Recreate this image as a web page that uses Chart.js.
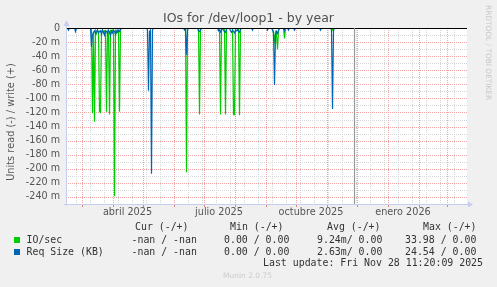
<!DOCTYPE html>
<html><head><meta charset="utf-8">
<script src="https://cdn.jsdelivr.net/npm/chart.js@4/dist/chart.umd.min.js"></script>
<style>html,body{margin:0;padding:0;background:#F0F0F0;overflow:hidden}#wrap{position:relative;width:497px;height:287px}canvas{display:block}</style>
</head><body><div id="wrap"><canvas id="c" width="497" height="287"></canvas></div>
<script>
// ---- DATA (days counted from 1 Jan 2025; values in milli-units, read side is negative) ----
const ioDays = [44, 69, 70, 71, 72, 73, 74, 75, 76, 77, 78, 79, 80, 81, 82, 83, 84, 85, 86, 87, 88, 89, 90, 91, 92, 93, 94, 95, 96, 97, 98, 99,
  163, 164, 165, 176, 177, 178, 196, 197, 198, 199, 200, 202, 203, 204, 210, 211, 212, 213, 216, 217, 218, 219,
  250, 251, 252, 253, 254, 255, 256, 257, 261, 262, 263, 309, 310, 311, 331];
const ioRead = [0, 0, -121, -6, -133, -4, -8, -3, -6, -119, -120, -5, -3, -7, -4, -6, -119, -5, -8, -123, -4, -6, -3, -5, -239, -4, -7, -3, -5, -119, -3, 0,
  0, -205, 0, 0, -123, 0, 0, -2, -123, -2, 0, 0, -123, 0, 0, -123, -123, 0, 0, -124, -2, 0,
  0, -8, -18, -6, -10, -30, -4, 0, 0, -15, 0, 0, -3, 0, 0];

const reqDays = [44, 45, 46, 47, 52, 53, 54, 68,
  69, 70, 71, 72, 73, 74, 75, 76, 77, 78, 79, 80, 81, 82, 83, 84, 85, 86, 87, 88, 89, 90, 91, 92, 93, 94, 95, 96, 97, 98, 99,
  124, 125, 126, 127, 128, 129, 130, 131,
  161, 162, 163, 164, 165, 166,
  175, 176, 177, 178, 179,
  195, 196, 197, 198, 199, 200, 201, 202, 203, 204, 205, 206, 207, 208, 209, 210, 211, 212, 213, 214, 215, 216, 217, 218, 219,
  229, 230, 231, 244, 245, 246,
  249, 250, 251, 252, 253, 254, 255, 256, 257,
  261, 262, 263, 265, 266, 267, 271, 272, 273, 297, 298, 299,
  308, 309, 310, 311, 312, 331];
const reqRead = [0, 0, -3, 0, 0, -5, 0, 0,
  -27, -10, -6, -4, -8, -5, -3, -7, -5, -4, -9, -3, -6, -10, -4, -5, -8, -3, -6, -11, -4, -7, -3, -5, -9, -4, -6, -3, -5, -2, 0,
  0, -3, -89, -5, -3, -207, -3, 0,
  0, -3, -2, -38, -3, 0,
  0, -4, -5, -3, 0,
  0, -4, -2, -6, -3, 0, -3, -5, -6, -2, 0, 0, 0, -4, -6, -3, -5, -7, -3, -4, -2, -5, -6, -2, 0,
  0, -3, 0, 0, -3, 0,
  0, -3, -6, -81, -10, -5, -8, -3, 0,
  0, -4, 0, 0, -3, 0, 0, -3, 0, 0, -3, 0,
  0, -3, -115, -4, 0, 0];

const xLabelDays = [105, 196.5, 288.5, 380.5];
const xLabels = ['abril 2025', 'julio 2025', 'octubre 2025', 'enero 2026'];
const monthStartDays = [59, 90, 120, 151, 181, 212, 243, 273, 304, 334, 365, 396, 424];
const yTickValues = [0, -20, -40, -60, -80, -100, -120, -140, -160, -180, -200, -220, -240];
const nowDay = 331.47;

const seriesNames = ['IO/sec', 'Req Size (KB)'];
const legendCur = ['-nan / -nan', '-nan / -nan'];
const legendMin = ['0.00 / 0.00', '0.00 / 0.00'];
const legendAvg = ['9.24m/ 0.00', '2.63m/ 0.00'];
const legendMax = ['33.98 / 0.00', '24.54 / 0.00'];
const lastUpdate = 'Last update: Fri Nov 28 11:20:09 2025';

// ---- style ----
const GREEN = '#00CC00', BLUE = '#0066B3';
const AX = 'DejaVu Sans';
const MONO = 'DejaVu Sans Mono';

function seg(ctx, x1, y1, x2, y2) { ctx.beginPath(); ctx.moveTo(x1, y1); ctx.lineTo(x2, y2); ctx.stroke(); }

const rrdPlugin = {
  id: 'rrd',
  beforeDraw(chart) {
    const {ctx, chartArea: a} = chart;
    ctx.save();
    ctx.fillStyle = '#F0F0F0'; ctx.fillRect(0, 0, chart.width, chart.height);
    ctx.fillStyle = '#FFFFFF'; ctx.fillRect(a.left, a.top, a.right - a.left, a.bottom - a.top);
    ctx.restore();
  },
  beforeDatasetsDraw(chart) {
    const {ctx, chartArea: a, scales: {x, y}} = chart;
    ctx.save();
    ctx.lineWidth = 1;
    ctx.setLineDash([1, 1]);
    // minor grid (gray)
    ctx.strokeStyle = '#D6D6D6';
    for (let d = 235.5 - 14 * 14; d < x.max; d += 14) {
      if (d <= x.min) continue;
      const px = Math.round(x.getPixelForValue(d)) + 0.5;
      seg(ctx, px, a.top, px, a.bottom);
    }
    for (let v = -10; v > y.min; v -= 20) {
      const py = Math.round(y.getPixelForValue(v)) + 0.5;
      seg(ctx, a.left, py, a.right, py);
    }
    // major grid (red)
    ctx.strokeStyle = '#F2A4A4';
    for (const d of monthStartDays) {
      if (d <= x.min || d >= x.max) continue;
      const px = Math.round(x.getPixelForValue(d)) + 0.5;
      seg(ctx, px, a.top, px, a.bottom);
    }
    for (const v of yTickValues) {
      if (v === 0) continue;
      const py = Math.round(y.getPixelForValue(v)) + 0.5;
      seg(ctx, a.left, py, a.right, py);
    }
    ctx.setLineDash([]);
    // small ticks under x axis
    ctx.strokeStyle = '#E88080';
    for (const d of monthStartDays) {
      if (d <= x.min || d >= x.max) continue;
      const px = Math.round(x.getPixelForValue(d)) + 0.5;
      seg(ctx, px, a.bottom, px, a.bottom + 3);
    }
    ctx.restore();
  },
  afterDatasetsDraw(chart) {
    const {ctx, chartArea: a, scales: {x, y}} = chart;
    ctx.save();
    // zero line
    ctx.strokeStyle = '#000000'; ctx.lineWidth = 1.2;
    const y0 = y.getPixelForValue(0) + 0.5;
    seg(ctx, a.left, y0, a.right, y0);
    // now line
    ctx.strokeStyle = '#999999'; ctx.lineWidth = 1.2;
    const nx = Math.round(x.getPixelForValue(nowDay)) + 0.5;
    seg(ctx, nx, a.top, nx, a.bottom);
    // axes
    ctx.strokeStyle = '#C8CDEE'; ctx.fillStyle = '#C8CDEE'; ctx.lineWidth = 1;
    const ax = a.left + 0.5, by = a.bottom + 0.5;
    seg(ctx, ax, a.top - 3, ax, a.bottom + 2);
    seg(ctx, a.left - 2, by, a.right + 3, by);
    ctx.beginPath(); ctx.moveTo(ax, a.top - 8); ctx.lineTo(ax - 3, a.top - 2); ctx.lineTo(ax + 3, a.top - 2); ctx.closePath(); ctx.fill();
    ctx.beginPath(); ctx.moveTo(a.right + 6, by); ctx.lineTo(a.right + 1, by - 3); ctx.lineTo(a.right + 1, by + 3); ctx.closePath(); ctx.fill();
    ctx.restore();
  },
  afterDraw(chart) {
    const {ctx, chartArea: a} = chart;
    ctx.save();
    // title
    ctx.fillStyle = '#505050';
    ctx.font = '12.5px "' + AX + '"';
    ctx.textAlign = 'center'; ctx.textBaseline = 'middle';
    ctx.fillText('IOs for /dev/loop1 - by year', 248.5, 18.5);
    // y axis title
    ctx.save();
    ctx.translate(11, 122); ctx.rotate(-Math.PI / 2);
    ctx.font = '9.8px "' + AX + '"'; ctx.fillStyle = '#555555';
    ctx.fillText('Units read (-) / write (+)', 0, 0);
    ctx.restore();
    // rrdtool credit
    ctx.save();
    ctx.translate(488, 5); ctx.rotate(Math.PI / 2);
    ctx.font = '7.4px "' + AX + '"'; ctx.fillStyle = '#C8C8C8';
    ctx.textAlign = 'left'; ctx.textBaseline = 'middle';
    ctx.fillText('RRDTOOL / TOBI OETIKER', 0, 0);
    ctx.restore();
    // legend
    ctx.font = '9.9px "' + MONO + '"'; ctx.fillStyle = '#333333';
    ctx.textAlign = 'left'; ctx.textBaseline = 'middle';
    ctx.fillText('Cur (-/+)', 135, 227);
    ctx.fillText('Min (-/+)', 230, 227);
    ctx.fillText('Avg (-/+)', 327, 227);
    ctx.fillText('Max (-/+)', 423, 227);
    const colors = [GREEN, BLUE];
    const rowsY = [240, 252];
    for (let i = 0; i < 2; i++) {
      const ry = rowsY[i];
      ctx.fillStyle = colors[i]; ctx.fillRect(14, ry - 3, 6, 6);
      ctx.fillStyle = '#333333';
      ctx.fillText(seriesNames[i], 26.5, ry);
      ctx.fillText(legendCur[i], 131.5, ry);
      ctx.fillText(legendMin[i], 224, ry);
      ctx.fillText(legendAvg[i], 317, ry);
      ctx.fillText(legendMax[i], 405, ry);
    }
    ctx.textAlign = 'right';
    ctx.fillText(lastUpdate, 483, 263.5);
    ctx.textAlign = 'left';
    ctx.font = '7.5px "' + AX + '"'; ctx.fillStyle = '#CCCCCC';
    ctx.fillText('Munin 2.0.75', 223, 276);
    ctx.restore();
  }
};

new Chart(document.getElementById('c'), {
  type: 'line',
  data: {
    datasets: [
      { label: 'Req Size (KB)', data: reqDays.map((d, i) => ({x: d, y: reqRead[i]})), borderColor: BLUE, borderWidth: 1.2, pointRadius: 0, tension: 0, fill: false, order: 0 },
      { label: 'IO/sec', data: ioDays.map((d, i) => ({x: d, y: ioRead[i]})), borderColor: GREEN, borderWidth: 1.2, pointRadius: 0, tension: 0, fill: false, order: 1 }
    ]
  },
  options: {
    responsive: false, animation: false, devicePixelRatio: 1,
    layout: { padding: { top: 28, right: 30, left: 0, bottom: 0 } },
    plugins: { legend: { display: false }, tooltip: { enabled: false }, title: { display: false } },
    scales: {
      x: {
        type: 'linear', min: 43.5, max: 444.5,
        afterBuildTicks: s => { s.ticks = xLabelDays.map(v => ({value: v})); },
        afterFit: s => { s.height = 83; },
        ticks: { autoSkip: false, maxRotation: 0, padding: 3, color: '#555555', font: { family: AX, size: 9.7 },
          callback: (v, i) => xLabels[i] },
        grid: { display: false, drawTicks: false }, border: { display: false }
      },
      y: {
        type: 'linear', min: -250, max: 0,
        afterBuildTicks: s => { s.ticks = yTickValues.map(v => ({value: v})); },
        afterFit: s => { s.width = 66; },
        ticks: { autoSkip: false, padding: 6, color: '#555555', font: { family: AX, size: 9.6 },
          callback: v => v === 0 ? '0' : v + ' m' },
        grid: { display: false, drawTicks: false }, border: { display: false }
      }
    }
  },
  plugins: [rrdPlugin]
});
</script></body></html>
